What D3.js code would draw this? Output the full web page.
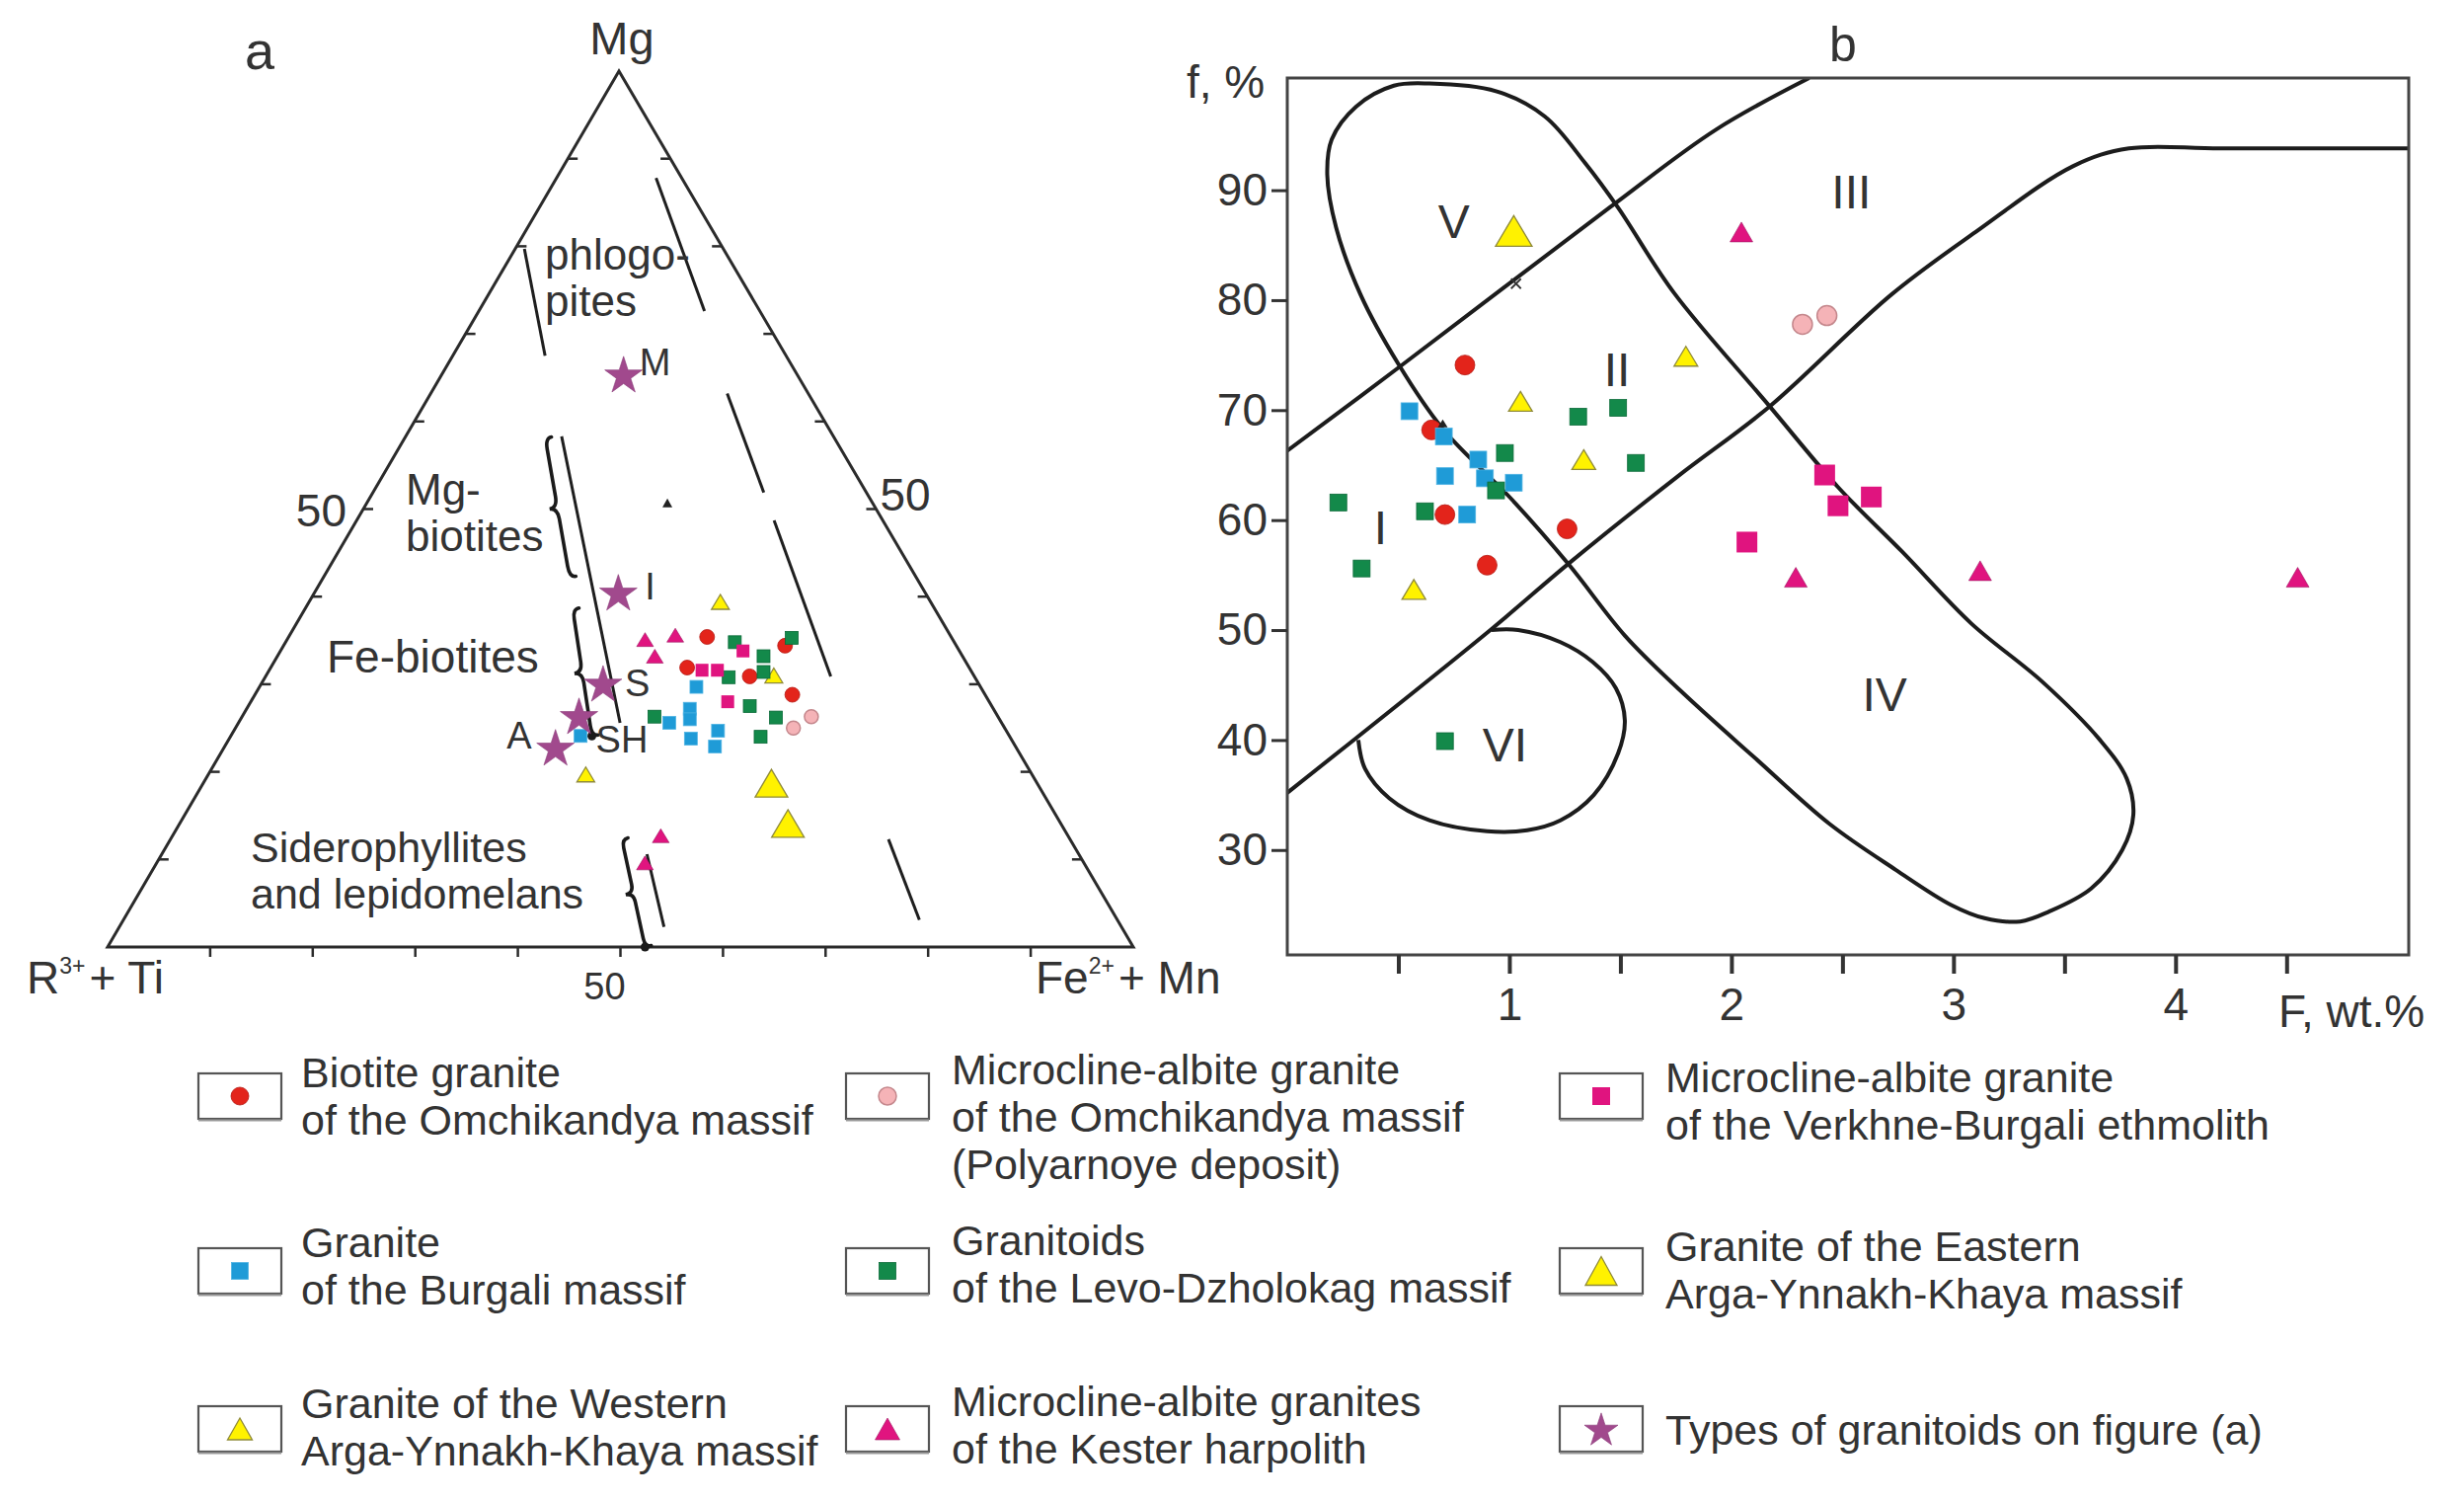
<!DOCTYPE html>
<html><head><meta charset="utf-8">
<script src="https://cdn.jsdelivr.net/npm/d3@7/dist/d3.min.js"></script>
<style>
html,body{margin:0;padding:0;background:#fff;}
svg{display:block;}
text{font-family:"Liberation Sans",Arial,Helvetica,sans-serif;fill:#333;}
</style></head><body>
<svg id="chart" width="2496" height="1520"></svg>
<script>
// ================= DATA =================
// Panel (a): ternary compositions [Mg, R3+ + Ti, Fe2+ + Mn], %
const aOmchikandya   = [[35.4,23.8,40.8],[34.4,16.7,48.9],[31.9,27.5,40.6],[30.9,21.9,47.2],[28.8,18.8,52.4]];
const aPolyarnoye    = [[25.0,20.6,54.4],[26.3,18.2,55.5]];
const aVerkhneBurgali= [[33.8,21.1,45.1],[31.6,26.2,42.2],[31.6,24.7,43.7],[28.0,25.5,46.5]];
const aBurgali       = [[29.7,27.7,42.6],[27.2,29.6,43.2],[26.0,30.2,43.8],[25.6,32.4,42.0],[24.7,28.1,47.2],[23.8,31.2,45.0],[22.9,29.3,47.8],[24.1,41.8,34.1]];
const aLevoDzholokag = [[34.8,21.4,43.8],[35.3,15.6,49.1],[33.2,19.4,47.4],[31.4,20.3,48.3],[30.8,24.0,45.2],[27.5,23.6,48.9],[26.2,21.7,52.1],[26.3,33.5,40.2],[24.0,24.3,51.7]];
const aEastern       = [[18.7,25.9,55.4],[14.1,26.6,59.3]];
const aWestern       = [[39.4,20.5,40.1],[31.0,19.5,49.5],[19.7,43.5,36.8]];
const aKester        = [[35.1,30.0,34.9],[35.6,26.8,37.6],[33.2,30.0,36.8],[12.7,39.7,47.6],[9.6,42.8,47.6]];
const aUnlabelled    = [[50.7,20.0,29.3]];
const starNames  = ["M","I","S","SH","A"];
const starValues = [[65.4,16.9,17.7],[40.5,29.9,29.6],[30.1,36.6,33.3],[26.4,40.8,32.8],[22.8,44.9,32.3]];
// field boundaries (segments of two dashed lines), ternary end points
const ternBoundaries = [
  [[79.7,19.4,0.9],[67.5,23.5,9.0]],
  [[58.3,26.5,15.2],[25.6,37.2,37.2]],
  [[10.6,42.1,47.3],[2.3,44.6,53.1]],
  [[87.8,2.5,9.7],[72.6,5.4,22.0]],
  [[63.2,7.9,28.9],[51.9,10.0,38.1]],
  [[48.7,10.6,40.7],[30.9,14.0,55.1]],
  [[12.3,17.7,70.0],[3.1,19.3,77.6]]
];
// braces grouping the field names, ternary end points; dot = end marked by a point
const ternBraces = [
  {ends:[[58.1,28.2,13.7],[42.2,33.8,24.0]], dot:false},
  {ends:[[38.6,35.3,26.1],[24.1,40.7,35.2]], dot:true},
  {ends:[[12.3,43.7,44.0],[0.0,47.6,52.4]], dot:true}
];
const ternTicks = [10,20,30,40,50,60,70,80,90];
const ternTickLabel = 50;
const ternFieldNames = [["phlogo-","pites"],["Mg-","biotites"],["Fe-biotites"],["Siderophyllites","and lepidomelans"]];

// Panel (b): [F, wt.%  ;  f, %]
const bOmchikandya   = [[0.80,74.1],[0.65,68.2],[0.71,60.5],[1.26,59.2],[0.90,55.9]];
const bPolyarnoye    = [[2.32,77.8],[2.43,78.6]];
const bVerkhneBurgali= [[2.42,64.1],[2.63,62.1],[2.48,61.3],[2.07,58.0]];
const bBurgali       = [[0.55,69.9],[0.705,67.6],[0.86,65.5],[0.71,64.0],[0.89,63.8],[1.02,63.4],[0.81,60.5]];
const bLevoDzholokag = [[0.98,66.1],[1.31,69.4],[1.49,70.2],[1.57,65.2],[0.94,62.7],[0.23,61.6],[0.62,60.8],[0.335,55.6],[0.71,39.9]];
const bEastern       = [[1.02,86.3]];
const bWestern       = [[1.05,70.8],[1.335,65.5],[1.795,74.9],[0.57,53.7]];
const bKester        = [[2.045,86.2],[2.29,54.8],[3.12,55.4],[4.55,54.8]];
const bUnlabelledTri = [[0.70,68.8]];
const bUnlabelledX   = [[1.03,81.5]];
// field outlines
const bLineA = [[0,66.3],[0.51,74.0],[1.45,88.4],[1.93,95.5],[2.35,100.2]];
const bLineB = [[0,35.2],[0.92,50.1],[1.27,56.1],[1.76,64.0],[2.17,70.3],[2.72,80.5],[3.1,86.2],[3.54,92.2],[3.79,93.8],[4.2,93.8],[5.05,93.8]];
const bOval  = [[0.64,99.7],[0.94,99.0],[1.16,96.7],[1.34,92.5],[1.49,88.4],[1.74,80.7],[2.17,70.4],[2.48,63.0],[2.77,57.1],[3.08,50.6],[3.40,45.3],[3.66,40.0],[3.78,36.5],[3.81,33.2],[3.76,30.0],[3.62,26.5],[3.43,24.4],[3.30,23.5],[3.14,23.8],[2.99,25.0],[2.74,28.2],[2.44,32.4],[2.11,38.3],[1.77,44.5],[1.52,49.5],[1.27,55.9],[1.01,61.9],[0.70,68.3],[0.50,74.2],[0.33,80.5],[0.22,86.6],[0.18,91.4],[0.20,94.6],[0.31,97.6],[0.48,99.5]];
const bFieldVI = [[0.92,50.0],[1.04,50.0],[1.23,48.9],[1.375,47.1],[1.48,44.7],[1.52,41.8],[1.49,38.8],[1.38,35.0],[1.23,32.7],[1.08,31.8],[0.90,31.7],[0.64,32.7],[0.46,34.7],[0.35,37.4],[0.32,40.0]];
const bFieldNames  = ["I","II","III","IV","V","VI"];
const bFieldCenters= [[0.42,59.4],[1.485,73.7],[2.54,89.9],[2.69,44.2],[0.75,87.2],[0.98,39.6]];
const bXTicks = [0.5,1,1.5,2,2.5,3,3.5,4,4.5];
const bXLabels = [1,2,3,4];
const bYTicks = [30,40,50,60,70,80,90];

// legend
const legendTexts = [
  ["Biotite granite","of the Omchikandya massif"],
  ["Microcline-albite granite","of the Omchikandya massif","(Polyarnoye deposit)"],
  ["Microcline-albite granite","of the Verkhne-Burgali ethmolith"],
  ["Granite","of the Burgali massif"],
  ["Granitoids","of the Levo-Dzholokag massif"],
  ["Granite of the Eastern","Arga-Ynnakh-Khaya massif"],
  ["Granite of the Western","Arga-Ynnakh-Khaya massif"],
  ["Microcline-albite granites","of the Kester harpolith"],
  ["Types of granitoids on figure (a)"]
];

// ================= STYLES =================
const C = {red:"#e3241b", pink:"#f5b3b7", magenta:"#e0147f", blue:"#1f9bd7", green:"#13894a", yellow:"#fff200", star:"#a1498d", ink:"#2b2b2b"};
const styles = {
  omch:   {shape:"circle", fill:C.red, stroke:"#b51a14", sw:0.8},
  poly:   {shape:"circle", fill:C.pink, stroke:"#c4878c", sw:1.5},
  verkh:  {shape:"square", fill:C.magenta, stroke:"none", sw:0},
  burg:   {shape:"square", fill:C.blue, stroke:"#4fb3e3", sw:0.8},
  levo:   {shape:"square", fill:C.green, stroke:"#0b6a38", sw:0.8},
  east:   {shape:"triangle", fill:C.yellow, stroke:"#8f8a3a", sw:1.3},
  west:   {shape:"triangle", fill:C.yellow, stroke:"#8f8a3a", sw:1.3},
  kest:   {shape:"triangle", fill:C.magenta, stroke:"#9a1560", sw:0.6},
  star:   {shape:"star", fill:C.star, stroke:"#8a3d79", sw:0.6},
  blk:    {shape:"triangle", fill:"#222", stroke:"none", sw:0},
  cross:  {shape:"cross", fill:"none", stroke:"#333", sw:1.8}
};
// marker sizes: [width, height] (circle: diameter)
const sizeA = {omch:[15,15], poly:[14,14], verkh:[13,13], burg:[13,13], levo:[13,13], east:[33,28], west:[18,15], kest:[17,14], star:[38,38], blk:[10,9]};
const sizeB = {omch:[20,20], poly:[20,20], verkh:[21,21], burg:[17,17], levo:[17,17], east:[37,31], west:[24,20], kest:[23,20], blk:[10,8], cross:[10,10]};
const sizeL = {omch:[18,18], poly:[18,18], verkh:[18,18], burg:[17,17], levo:[17,17], east:[32,29], west:[25,22], kest:[25,22], star:[34,34]};

const svg = d3.select("#chart");

function addMark(g, x, y, st, sz){
  const [w,h] = sz;
  if(st.shape==="circle"){
    g.append("circle").attr("cx",x).attr("cy",y).attr("r",w/2)
      .attr("fill",st.fill).attr("stroke",st.stroke).attr("stroke-width",st.sw);
  } else if(st.shape==="square"){
    g.append("rect").attr("x",x-w/2).attr("y",y-h/2).attr("width",w).attr("height",h)
      .attr("fill",st.fill).attr("stroke",st.stroke).attr("stroke-width",st.sw);
  } else if(st.shape==="triangle"){
    g.append("path").attr("d",`M${x},${y-h/2}L${x+w/2},${y+h/2}L${x-w/2},${y+h/2}Z`)
      .attr("fill",st.fill).attr("stroke",st.stroke).attr("stroke-width",st.sw).attr("stroke-linejoin","miter");
  } else if(st.shape==="star"){
    const r = w/1.902; const size = r*r/0.8908130915292852;
    g.append("path").attr("d",d3.symbol(d3.symbolStar,size)()).attr("transform",`translate(${x},${y+r*0.095})`)
      .attr("fill",st.fill).attr("stroke",st.stroke).attr("stroke-width",st.sw);
  } else if(st.shape==="cross"){
    g.append("path").attr("d",`M${x-w/2},${y-h/2}L${x+w/2},${y+h/2}M${x+w/2},${y-h/2}L${x-w/2},${y+h/2}`)
      .attr("stroke",st.stroke).attr("stroke-width",st.sw).attr("fill","none");
  }
}

// ================= PANEL A: TERNARY =================
const frac = d3.scaleLinear().domain([0,100]).range([0,1]);
const VX = {mg:[627,72], r:[109,959], fe:[1148,959]};
function tern(d){
  const a=frac(d[0]), b=frac(d[1]), c=frac(d[2]), s=a+b+c;
  return [(a*VX.mg[0]+b*VX.r[0]+c*VX.fe[0])/s, (a*VX.mg[1]+b*VX.r[1]+c*VX.fe[1])/s];
}
const gA = svg.append("g");
// triangle
gA.append("path")
  .attr("d", d3.line()([tern([100,0,0]),tern([0,100,0]),tern([0,0,100])])+"Z")
  .attr("fill","none").attr("stroke",C.ink).attr("stroke-width",3).attr("stroke-linejoin","miter");
// ticks
ternTicks.forEach(k=>{
  const pb = tern([0,100-k,k]);
  gA.append("line").attr("x1",pb[0]).attr("y1",pb[1]).attr("x2",pb[0]).attr("y2",pb[1]+10).attr("stroke",C.ink).attr("stroke-width",2.5);
  const pl = tern([k,100-k,0]);
  gA.append("line").attr("x1",pl[0]).attr("y1",pl[1]).attr("x2",pl[0]+10).attr("y2",pl[1]).attr("stroke",C.ink).attr("stroke-width",2.5);
  const pr = tern([k,0,100-k]);
  gA.append("line").attr("x1",pr[0]).attr("y1",pr[1]).attr("x2",pr[0]-10).attr("y2",pr[1]).attr("stroke",C.ink).attr("stroke-width",2.5);
});
{
  const v = ternTickLabel;
  const pl = tern([v,100-v,0]), pr = tern([v,0,100-v]), pb = tern([0,100-v,v]);
  gA.append("text").attr("x",pl[0]-17).attr("y",pl[1]+17).attr("text-anchor","end").attr("font-size",46).text(v);
  gA.append("text").attr("x",pr[0]+4).attr("y",pr[1]+1).attr("text-anchor","start").attr("font-size",46).text(v);
  gA.append("text").attr("x",pb[0]-16).attr("y",pb[1]+53).attr("text-anchor","middle").attr("font-size",38).text(v);
}
// corner labels
{
  const pm = tern([100,0,0]);
  gA.append("text").attr("x",pm[0]+3).attr("y",pm[1]-17).attr("text-anchor","middle").attr("font-size",47).text("Mg");
  const t1 = gA.append("text").attr("x",27).attr("y",1006).attr("font-size",46);
  t1.append("tspan").text("R");
  t1.append("tspan").attr("font-size",23).attr("dy",-20).text("3+");
  t1.append("tspan").attr("dy",20).attr("dx",4).text("+ Ti");
  const t2 = gA.append("text").attr("x",1049).attr("y",1006).attr("font-size",46);
  t2.append("tspan").text("Fe");
  t2.append("tspan").attr("font-size",23).attr("dy",-20).text("2+");
  t2.append("tspan").attr("dy",20).attr("dx",4).text("+ Mn");
}
// panel letter
svg.append("text").attr("x",263).attr("y",70).attr("text-anchor","middle").attr("font-size",54).text("a");
// boundaries
ternBoundaries.forEach(s=>{
  const p0=tern(s[0]), p1=tern(s[1]);
  gA.append("line").attr("x1",p0[0]).attr("y1",p0[1]).attr("x2",p1[0]).attr("y2",p1[1]).attr("stroke","#1f1f1f").attr("stroke-width",3);
});
// braces
function bracePath(p0,p1,w){
  const dx=p1[0]-p0[0], dy=p1[1]-p0[1], L=Math.hypot(dx,dy);
  const u=[dx/L,dy/L], n=[-u[1],u[0]];
  const q=(t,s)=>[p0[0]+u[0]*t*L+n[0]*s, p0[1]+u[1]*t*L+n[1]*s];
  const P=p=>p[0].toFixed(1)+","+p[1].toFixed(1);
  return `M${P(q(0,-w*0.8))}Q${P(q(0,0))} ${P(q(0.08,0))}L${P(q(0.42,0))}Q${P(q(0.5,0))} ${P(q(0.5,w))}Q${P(q(0.5,0))} ${P(q(0.58,0))}L${P(q(0.92,0))}Q${P(q(1,0))} ${P(q(1,-w*0.8))}`;
}
ternBraces.forEach(b=>{
  const p0=tern(b.ends[0]), p1=tern(b.ends[1]);
  gA.append("path").attr("d",bracePath(p0,p1,8)).attr("fill","none").attr("stroke","#1a1a1a").attr("stroke-width",3.6).attr("stroke-linecap","round");
  if(b.dot) gA.append("circle").attr("cx",p1[0]).attr("cy",p1[1]).attr("r",4.5).attr("fill","#1a1a1a");
});
// field names
const fieldNamePos = [[552,273,44],[411,511,44],[331,681,46],[254,873,43]];
ternFieldNames.forEach((lines,i)=>{
  const [x,y,fs]=fieldNamePos[i];
  lines.forEach((t,j)=>gA.append("text").attr("x",x).attr("y",y+j*47).attr("font-size",fs).text(t));
});
// points
const aSeries = [["kest",aKester],["west",aWestern],["omch",aOmchikandya],["levo",aLevoDzholokag],["verkh",aVerkhneBurgali],["burg",aBurgali],["poly",aPolyarnoye],["east",aEastern],["blk",aUnlabelled]];
aSeries.forEach(([k,arr])=>arr.forEach(d=>{const p=tern(d); addMark(gA,p[0],p[1],styles[k],sizeA[k]);}));
const starLabelOffset = {M:[16,1,"start"],I:[27,7,"start"],S:[22,13,"start"],SH:[17,37,"start"],A:[-24,1,"end"]};
starValues.forEach((d,i)=>{
  const p=tern(d); addMark(gA,p[0],p[1],styles.star,sizeA.star);
  const o=starLabelOffset[starNames[i]];
  gA.append("text").attr("x",p[0]+o[0]).attr("y",p[1]+o[1]).attr("text-anchor",o[2]).attr("font-size",38).text(starNames[i]);
});

// ================= PANEL B =================
const x = d3.scaleLinear().domain([0,5.05]).range([1304,2440]);
const y = d3.scaleLinear().domain([20.46,100.2]).range([967,79]);
const gB = svg.append("g");
gB.append("clipPath").attr("id","bclip").append("rect").attr("x",1304).attr("y",79).attr("width",1136).attr("height",888);
const lineGen = d3.line().x(d=>x(d[0])).y(d=>y(d[1])).curve(d3.curveCatmullRom.alpha(0.5));
const closedGen = d3.line().x(d=>x(d[0])).y(d=>y(d[1])).curve(d3.curveCatmullRomClosed.alpha(0.5));
const gCurves = gB.append("g").attr("clip-path","url(#bclip)");
[lineGen(bLineA), lineGen(bLineB), closedGen(bOval), lineGen(bFieldVI)].forEach(dp=>
  gCurves.append("path").attr("d",dp).attr("fill","none").attr("stroke","#1c1c1c").attr("stroke-width",4).attr("stroke-linejoin","round"));
// frame
gB.append("rect").attr("x",1304).attr("y",79).attr("width",1136).attr("height",888).attr("fill","none").attr("stroke","#444").attr("stroke-width",3);
// axes
const yAxis = d3.axisLeft(y).tickValues(bYTicks).tickSize(16).tickPadding(4);
const gy = gB.append("g").attr("transform",`translate(${x.range()[0]},0)`).call(yAxis);
const xAxis = d3.axisBottom(x).tickValues(bXTicks).tickSize(19).tickPadding(14).tickFormat(d=>bXLabels.includes(d)?String(d):"");
const gx = gB.append("g").attr("transform",`translate(0,${y.range()[0]})`).call(xAxis);
[gy,gx].forEach(g=>{
  g.select(".domain").remove();
  g.selectAll("text").attr("font-size",46).attr("font-family","Liberation Sans, Arial, sans-serif").attr("fill","#333");
});
gy.selectAll(".tick line").attr("stroke","#333").attr("stroke-width",3);
gx.selectAll(".tick line").attr("stroke","#333").attr("stroke-width",4);
gB.append("text").attr("x",1202).attr("y",99).attr("font-size",46).text("f, %");
gB.append("text").attr("x",2308).attr("y",1040).attr("font-size",46).text("F, wt.%");
svg.append("text").attr("x",1867).attr("y",62).attr("text-anchor","middle").attr("font-size",50).text("b");
bFieldNames.forEach((t,i)=>{
  gB.append("text").attr("x",x(bFieldCenters[i][0])).attr("y",y(bFieldCenters[i][1])).attr("dy","0.36em")
    .attr("text-anchor","middle").attr("font-size",48).text(t);
});
const bSeries = [["omch",bOmchikandya],["burg",bBurgali],["levo",bLevoDzholokag],["west",bWestern],["poly",bPolyarnoye],["verkh",bVerkhneBurgali],["kest",bKester],["east",bEastern],["blk",bUnlabelledTri],["cross",bUnlabelledX]];
bSeries.forEach(([k,arr])=>arr.forEach(d=>addMark(gB,x(d[0]),y(d[1]),styles[k],sizeB[k])));

// ================= LEGEND =================
const legendKeys = ["omch","poly","verkh","burg","levo","east","west","kest","star"];
const colBoxX = [201,857,1580], colTextX = [305,964,1687];
const rowBoxCY = [1110,1287,1447];
const firstBaseline = [1101,1098,1106,1273,1271,1277,1436,1434,1463];
const gL = svg.append("g");
legendKeys.forEach((k,i)=>{
  const r = Math.floor(i/3), c = i%3;
  const bx = colBoxX[c], cy = rowBoxCY[r];
  gL.append("rect").attr("x",bx).attr("y",cy-23).attr("width",84).attr("height",46)
    .attr("fill","#fff").attr("stroke","#555").attr("stroke-width",2.2);
  gL.append("line").attr("x1",bx).attr("x2",bx+84).attr("y1",cy+24.5).attr("y2",cy+24.5).attr("stroke","#9a9a9a").attr("stroke-width",2);
  addMark(gL,bx+42,cy,styles[k],sizeL[k]);
  legendTexts[i].forEach((t,j)=>gL.append("text").attr("x",colTextX[c]).attr("y",firstBaseline[i]+j*48).attr("font-size",43).text(t));
});
</script>
</body></html>
